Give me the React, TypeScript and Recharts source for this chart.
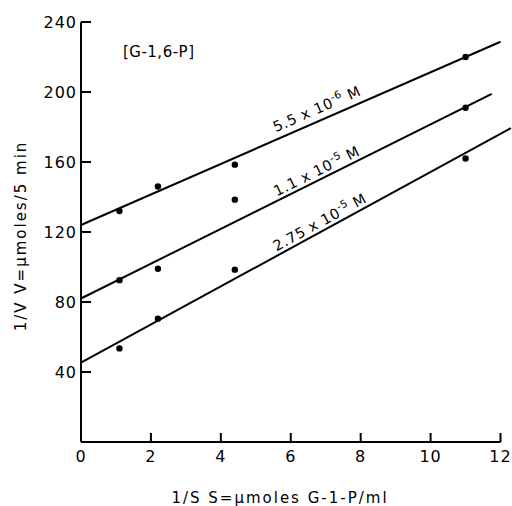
import React from 'react'
import { ComposedChart, Line, Scatter, XAxis, YAxis, ReferenceLine, ReferenceDot, Label } from 'recharts'

// 1/S values (S = umoles G-1-P/ml)
const invS = [1.1, 2.2, 4.4, 11]

// 1/V measured at each [G-1,6-P]
const v55e6 = [132, 146, 158.5, 220]
const v11e5 = [92.5, 99, 138.5, 191]
const v275e5 = [53.5, 70.5, 98.5, 162]

// drawn fit lines: start and end
const fit55e6 = [{ x: 0, y: 124 }, { x: 12, y: 228.7 }]
const fit11e5 = [{ x: 0, y: 82 }, { x: 11.75, y: 198.9 }]
const fit275e5 = [{ x: 0, y: 45.3 }, { x: 12.3, y: 179.4 }]

const seriesLabels = [
  { base: '5.5 x 10', exp: '-6', fit: fit55e6, lift: 7 },
  { base: '1.1 x 10', exp: '-5', fit: fit11e5, lift: 4 },
  { base: '2.75 x 10', exp: '-5', fit: fit275e5, lift: 4 },
]
const labelAtX = 5.65

const xTicks = [0, 2, 4, 6, 8, 10, 12]
const yTicks = [40, 80, 120, 160, 200, 240]

const W = 512
const H = 506
const M = { top: 22, right: 1, bottom: 0, left: 0 }
const Y_W = 81
const X_H = 64
const X_MAX = 12.3
const Y_MAX = 240
const pxX = (W - M.left - M.right - Y_W) / X_MAX
const pxY = (H - M.top - M.bottom - X_H) / Y_MAX

const font = 'DejaVu Sans, sans-serif'

const toPts = (ys: number[]) => invS.map((x, i) => ({ x, y: ys[i] }))

const Dot = (p: any) => <circle cx={p.cx} cy={p.cy} r={3.2} fill="#000" />

function YTick({ x, y, payload }: any) {
  return (
    <g>
      <line x1={x} x2={x + 10} y1={y} y2={y} stroke="#000" strokeWidth={2} />
      <text x={x - 4} y={y} dy={6} textAnchor="end" fontSize={16} fontFamily={font} letterSpacing={1} fill="#000">
        {payload.value}
      </text>
    </g>
  )
}

function XTick({ x, y, payload }: any) {
  return (
    <g>
      <line x1={x} x2={x} y1={y} y2={y - 9} stroke="#000" strokeWidth={2} />
      <text x={x} y={y + 19.5} textAnchor="middle" fontSize={16} fontFamily={font} letterSpacing={1} fill="#000">
        {payload.value}
      </text>
    </g>
  )
}

function lineLabel(l: typeof seriesLabels[number]) {
  const [a, b] = l.fit
  const slope = (b.y - a.y) / (b.x - a.x)
  const angle = (-Math.atan((slope * pxY) / pxX) * 180) / Math.PI
  return (p: any) => (
    <text
      transform={`translate(${p.cx},${p.cy}) rotate(${angle})`}
      y={-l.lift}
      fontSize={14.5}
      fontFamily={font}
      letterSpacing={0.6}
      fill="#000"
    >
      {l.base}
      <tspan dy={-6} fontSize={10.5}>{l.exp}</tspan>
      <tspan dy={6}> M</tspan>
    </text>
  )
}

export default function App() {
  return (
    <div style={{ position: 'absolute', left: 0, top: 0, background: '#fff', width: W, height: H }}>
      <ComposedChart width={W} height={H} margin={M}>
        <XAxis
          type="number"
          dataKey="x"
          domain={[0, X_MAX]}
          ticks={xTicks}
          interval={0}
          height={X_H}
          axisLine={false}
          tickLine={false}
          tickSize={0}
          tickMargin={0}
          tick={<XTick />}
        >
          <Label
            content={() => (
              <text x={280} y={503} textAnchor="middle" fontSize={15} fontFamily={font} letterSpacing={2} fill="#000">
                1/S  S=µmoles G-1-P/ml
              </text>
            )}
          />
        </XAxis>
        <YAxis
          type="number"
          dataKey="y"
          domain={[0, Y_MAX]}
          ticks={yTicks}
          interval={0}
          width={Y_W}
          axisLine={{ stroke: '#000', strokeWidth: 2 }}
          tickLine={false}
          tickSize={0}
          tickMargin={0}
          tick={<YTick />}
        >
          <Label
            content={() => (
              <text
                transform="translate(26,236) rotate(-90)"
                textAnchor="middle"
                fontSize={15}
                fontFamily={font}
                letterSpacing={2}
                fill="#000"
              >
                1/V  V=µmoles/5 min
              </text>
            )}
          />
        </YAxis>
        <ReferenceLine
          segment={[{ x: 0, y: 0 }, { x: 12, y: 0 }]}
          stroke="#000"
          strokeWidth={2}
          ifOverflow="visible"
        />
        <Line data={fit55e6} dataKey="y" type="linear" stroke="#000" strokeWidth={2} dot={false} isAnimationActive={false} />
        <Line data={fit11e5} dataKey="y" type="linear" stroke="#000" strokeWidth={2} dot={false} isAnimationActive={false} />
        <Line data={fit275e5} dataKey="y" type="linear" stroke="#000" strokeWidth={2} dot={false} isAnimationActive={false} />
        <Scatter data={toPts(v55e6)} dataKey="y" shape={Dot} isAnimationActive={false} />
        <Scatter data={toPts(v11e5)} dataKey="y" shape={Dot} isAnimationActive={false} />
        <Scatter data={toPts(v275e5)} dataKey="y" shape={Dot} isAnimationActive={false} />
        {seriesLabels.map((l) => {
          const [a, b] = l.fit
          const y = a.y + ((b.y - a.y) / (b.x - a.x)) * labelAtX
          return <ReferenceDot key={l.base + l.exp} x={labelAtX} y={y} ifOverflow="visible" shape={lineLabel(l)} />
        })}
        <ReferenceDot
          x={1.2}
          y={220}
          ifOverflow="visible"
          shape={(p: any) => (
            <text x={p.cx} y={p.cy} fontSize={15} fontFamily={font} letterSpacing={0.5} fill="#000">
              [G-1,6-P]
            </text>
          )}
        />
      </ComposedChart>
    </div>
  )
}
